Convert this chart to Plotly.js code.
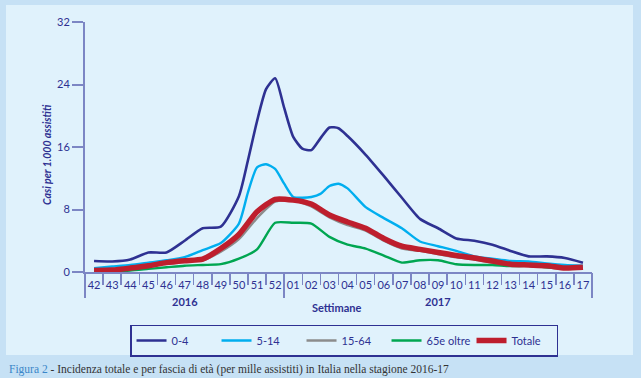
<!DOCTYPE html>
<html>
<head>
<meta charset="utf-8">
<script src="https://cdn.plot.ly/plotly-3.0.1.min.js"></script>
<style>html,body{margin:0;padding:0;background:#c6e1f5;}#chart{width:641px;height:378px;}</style>
</head>
<body>
<div id="chart"></div>
<script>
// Week labels (season 2016-17)
const weeks = ['42','43','44','45','46','47','48','49','50','51','52','01','02','03','04','05','06','07','08','09','10','11','12','13','14','15','16','17'];
const weekIdx = weeks.map((w, i) => i);

// 0-4 (positions in week index units, read incl. some mid-week points)
const pos04 = [0,1,2,3,4,5,6,7,8,8.5,9,9.5,10,10.5,11,11.5,12,12.5,13,13.5,14,15,16,17,18,19,20,21,22,23,24,25,26,27];
const val04 = [1.4,1.35,1.6,2.5,2.5,4.0,5.6,5.8,9.7,14.3,19.3,23.4,24.8,21.0,17.3,15.8,15.6,17.1,18.5,18.4,17.4,15.0,12.3,9.5,6.8,5.6,4.3,4.0,3.5,2.7,2.0,2.0,1.8,1.2];

// 5-14
const pos514 = [0,1,2,3,4,5,6,7,8,8.5,9,9.5,10,10.5,11,11.5,12,12.5,13,13.5,14,15,16,17,18,19,20,21,22,23,24,25,26,27];
const val514 = [0.5,0.7,0.9,1.2,1.5,1.9,2.8,3.7,6.2,10.2,13.4,13.8,13.2,11.3,9.6,9.5,9.6,10.0,11.0,11.3,10.7,8.3,6.9,5.6,3.9,3.3,2.7,2.0,1.7,1.4,1.35,1.1,0.9,0.8];

// 15-64 (weekly)
const val1564 = [0.2,0.3,0.5,0.75,1.1,1.35,1.5,2.6,4.2,6.9,9.0,9.2,8.4,7.0,6.0,5.3,4.0,3.0,2.7,2.3,1.9,1.6,1.2,0.9,0.8,0.6,0.4,0.5];

// 65 e oltre (weekly)
const val65 = [0.05,0.1,0.2,0.4,0.6,0.8,0.9,1.0,1.7,2.9,6.3,6.3,6.2,4.5,3.5,3.0,2.1,1.2,1.5,1.5,1.0,0.9,0.9,0.75,0.8,0.6,0.5,0.4];

// Totale (weekly)
const valTot = [0.2,0.25,0.5,0.8,1.2,1.45,1.65,3.0,4.8,7.7,9.3,9.2,8.7,7.3,6.4,5.6,4.3,3.3,2.9,2.5,2.1,1.8,1.4,1.0,0.9,0.8,0.5,0.6];

const yTicks = [0,8,16,24,32];

const C = {navy:'#2e3192', cyan:'#00aeef', gray:'#8c8c8c', green:'#00a651', red:'#be1e2d', axis:'#7c86c4', panel:'#e0f2fc', outer:'#c6e1f5'};
const FONT = 'Lato, "Open Sans", sans-serif';

function tr(x, y, name, color, width) {
  return {x: x, y: y, name: name, type: 'scatter', mode: 'lines',
    line: {color: color, width: width, shape: 'spline', smoothing: 0.6},
    hoverinfo: 'skip'};
}

const data = [
  tr(pos04, val04, '0-4', C.navy, 2.6),
  tr(pos514, val514, '5-14', C.cyan, 2.4),
  tr(weekIdx, val1564, '15-64', C.gray, 2.4),
  tr(weekIdx, val65, '65e oltre', C.green, 2.4),
  tr(weekIdx, valTot, 'Totale', C.red, 5.5),
  {x: [null], y: [null], xaxis: 'x2', showlegend: false, type: 'scatter', mode: 'lines', hoverinfo: 'skip'}
];

const boundaries = weekIdx.slice(1).map(i => i - 0.5);
const yearSplit = weeks.indexOf('01') - 0.5;
const lo = -0.5, hi = weeks.length - 0.5;

const layout = {
  width: 641, height: 378,
  margin: {l: 85, r: 49, t: 22, b: 106},
  paper_bgcolor: C.outer,
  plot_bgcolor: 'rgba(0,0,0,0)',
  showlegend: true,
  font: {family: FONT, color: C.navy, size: 11},
  xaxis: {
    range: [lo, hi], tickmode: 'array', tickvals: weekIdx, ticktext: weeks,
    ticks: '', showline: true, linecolor: C.axis, linewidth: 1.5,
    showgrid: false, zeroline: false, ticklabelstandoff: 2,
    tickfont: {family: FONT, size: 11, color: C.navy},
    minor: {tickmode: 'array', tickvals: boundaries, ticks: 'outside', ticklen: 11, tickwidth: 1.5, tickcolor: C.axis, showgrid: false}
  },
  xaxis2: {
    overlaying: 'x', anchor: 'y', side: 'bottom', range: [lo, hi],
    tickmode: 'array', tickvals: [lo, yearSplit, hi], ticks: 'outside', ticklen: 25,
    tickwidth: 1.5, tickcolor: C.axis, showticklabels: false, showline: false,
    showgrid: false, zeroline: false
  },
  yaxis: {
    range: [0, 32], tickmode: 'array', tickvals: yTicks, ticks: 'outside', ticklen: 11,
    tickwidth: 2, tickcolor: C.axis, showline: true, linewidth: 2, linecolor: C.axis,
    showgrid: false, zeroline: false,
    tickfont: {family: FONT, size: 11, color: C.navy}
  },
  legend: {
    orientation: 'h', x: 0.0888, y: -0.21, xanchor: 'left', yanchor: 'top',
    bgcolor: C.panel, bordercolor: C.navy, borderwidth: 1.5,
    entrywidth: 40, entrywidthmode: 'pixels',
    font: {family: FONT, size: 11, color: C.navy}
  },
  shapes: [
    {type: 'rect', xref: 'paper', yref: 'paper', x0: -0.1558, x1: 1.0809, y0: -0.332, y1: 1.068,
     fillcolor: C.panel, line: {width: 0}, layer: 'below'}
  ],
  annotations: [
    {text: '<i><b>Casi per 1.000 assistiti</b></i>', textangle: -90, xref: 'paper', yref: 'paper',
     x: -0.075, y: 0.472, xanchor: 'center', yanchor: 'middle', showarrow: false,
     font: {family: FONT, size: 10.5, color: C.navy}},
    {text: '<b>2016</b>', xref: 'paper', yref: 'paper', x: 0.197, y: -0.116, xanchor: 'center', yanchor: 'middle',
     showarrow: false, font: {family: FONT, size: 11, color: C.navy}},
    {text: '<b>Settimane</b>', xref: 'paper', yref: 'paper', x: 0.497, y: -0.14, xanchor: 'center', yanchor: 'middle',
     showarrow: false, font: {family: FONT, size: 11, color: C.navy}},
    {text: '<b>2017</b>', xref: 'paper', yref: 'paper', x: 0.696, y: -0.116, xanchor: 'center', yanchor: 'middle',
     showarrow: false, font: {family: FONT, size: 11, color: C.navy}},
    {text: '<span style="color:#3a86c8">Figura 2</span> - Incidenza totale e per fascia di età (per mille assistiti) in Italia nella stagione 2016-17',
     xref: 'paper', yref: 'paper', x: -0.1538, y: -0.388, xanchor: 'left', yanchor: 'middle',
     showarrow: false, font: {family: '"Liberation Serif", "DejaVu Serif", serif', size: 11.5, color: '#333333'}}
  ]
};

Plotly.newPlot('chart', data, layout, {staticPlot: true, displayModeBar: false});
</script>
</body>
</html>
